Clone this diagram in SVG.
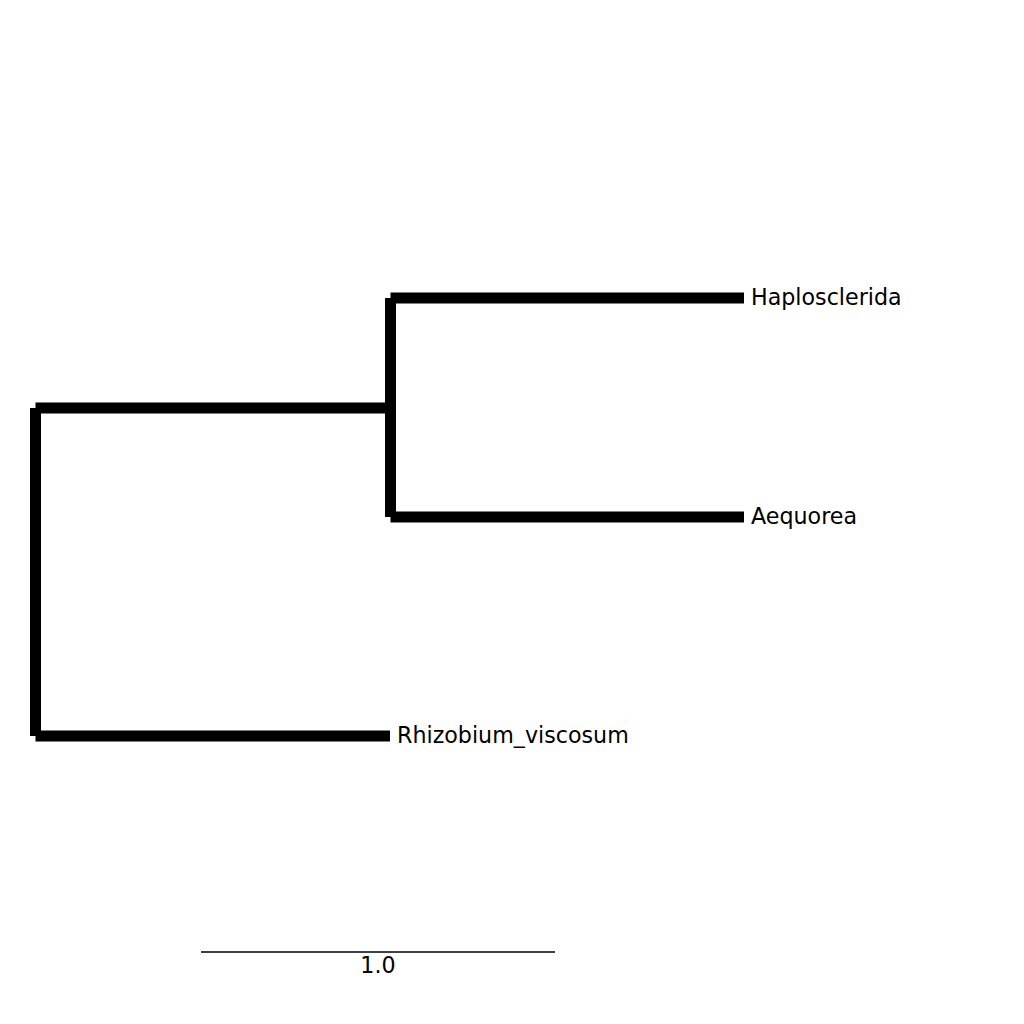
<svg xmlns="http://www.w3.org/2000/svg" width="1024" height="1024" viewBox="0 0 1024 1024">
<style>
.br{stroke:#000;stroke-width:11;fill:none;stroke-linecap:butt}
.lbl{font-family:"DejaVu Sans",sans-serif;font-size:22.2px;fill:#000}
</style>
<rect width="1024" height="1024" fill="#fff"/>
<g id="connectors">
<line class="br" x1="35.5" y1="408" x2="35.5" y2="736"/>
<line class="br" x1="35.5" y1="408" x2="390.5" y2="408"/>
<line class="br" x1="35.5" y1="736" x2="390" y2="736"/>
<line class="br" x1="390.5" y1="298" x2="390.5" y2="517"/>
<line class="br" x1="390.5" y1="298" x2="744" y2="298"/>
<line class="br" x1="390.5" y1="517" x2="744" y2="517"/>
</g>
<g id="Haplosclerida"><text class="lbl" x="751" y="305">Haplosclerida</text></g>
<g id="Aequorea"><text class="lbl" x="751" y="524">Aequorea</text></g>
<g id="Rhizobium_viscosum"><text class="lbl" x="397" y="743">Rhizobium_viscosum</text></g>
<g id="scale">
<line x1="201" y1="952" x2="555" y2="952" stroke="#000" stroke-width="1.5"/>
<text class="lbl" x="378" y="973" text-anchor="middle">1.0</text>
</g>
</svg>
